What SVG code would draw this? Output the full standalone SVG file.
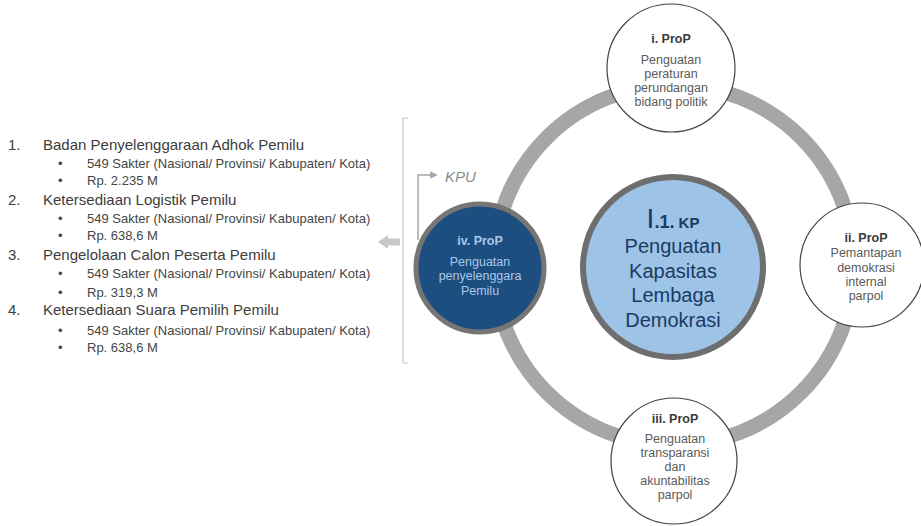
<svg xmlns="http://www.w3.org/2000/svg" width="921" height="526" viewBox="0 0 921 526">
<defs>
<style>
.hd{font-family:"Liberation Sans",Arial,sans-serif;font-size:15px;fill:#3d3d3d}
.sb{font-family:"Liberation Sans",Arial,sans-serif;font-size:13px;fill:#454545}
.ct{font-family:"Liberation Sans",Arial,sans-serif;font-size:12.5px;fill:#5a5a5a;text-anchor:middle}
.ctb{font-weight:bold;fill:#3a3a3a}
.wt{font-family:"Liberation Sans",Arial,sans-serif;font-size:12.5px;fill:#a9c8e8;text-anchor:middle}
.big{font-family:"Liberation Sans",Arial,sans-serif;font-size:20px;fill:#1c3a63;text-anchor:middle}
.sc{fill:#ffffff;stroke:#444444;stroke-width:1.2}
</style>
<marker id="dot" viewBox="0 0 6 6" refX="3" refY="3" markerWidth="5" markerHeight="5" orient="auto">
<path d="M0,0 L6,3 L0,6 z" fill="#a6a6a6"/>
</marker>
</defs>
<rect width="921" height="526" fill="#ffffff"/>

<g id="connectors">
<circle cx="674" cy="265" r="180" fill="none" stroke="#a6a6a6" stroke-width="15"/>
<path d="M403,118 H408 M403,118 V363 M403,363 H408" fill="none" stroke="#d3d3d3" stroke-width="1.5"/>
<path d="M378,242 L388,235 L388,238.5 L400,238.5 L400,245.5 L388,245.5 L388,249 Z" fill="#c8c8c8"/>
<path d="M418,240 V175 H434" fill="none" stroke="#a6a6a6" stroke-width="1.5" marker-end="url(#dot)"/>
<text x="445" y="182" font-family="Liberation Sans, Arial, sans-serif" font-size="15" font-style="italic" fill="#8c8c8c">KPU</text>
</g>

<g id="list">
<text class="hd" x="8" y="150">1.</text><text class="hd" x="43" y="150">Badan Penyelenggaraan Adhok Pemilu</text>
<text class="sb" x="58" y="168">•</text><text class="sb" x="87" y="168">549 Sakter (Nasional/ Provinsi/ Kabupaten/ Kota)</text>
<text class="sb" x="58" y="185">•</text><text class="sb" x="87" y="185">Rp. 2.235 M</text>
<text class="hd" x="8" y="205">2.</text><text class="hd" x="43" y="205">Ketersediaan Logistik Pemilu</text>
<text class="sb" x="58" y="223">•</text><text class="sb" x="87" y="223">549 Sakter (Nasional/ Provinsi/ Kabupaten/ Kota)</text>
<text class="sb" x="58" y="240">•</text><text class="sb" x="87" y="240">Rp. 638,6 M</text>
<text class="hd" x="8" y="260">3.</text><text class="hd" x="43" y="260">Pengelolaan Calon Peserta Pemilu</text>
<text class="sb" x="58" y="278">•</text><text class="sb" x="87" y="278">549 Sakter (Nasional/ Provinsi/ Kabupaten/ Kota)</text>
<text class="sb" x="58" y="297">•</text><text class="sb" x="87" y="297">Rp. 319,3 M</text>
<text class="hd" x="8" y="315">4.</text><text class="hd" x="43" y="315">Ketersediaan Suara Pemilih Pemilu</text>
<text class="sb" x="58" y="335">•</text><text class="sb" x="87" y="335">549 Sakter (Nasional/ Provinsi/ Kabupaten/ Kota)</text>
<text class="sb" x="58" y="352">•</text><text class="sb" x="87" y="352">Rp. 638,6 M</text>
</g>

<g id="node-center">
<circle cx="673" cy="267" r="90" fill="#9dc3e6" stroke="#6e6e6e" stroke-width="6"/>
<text class="big" x="673" y="228"><tspan font-size="28">I</tspan><tspan font-size="18" font-weight="bold">.1.</tspan><tspan font-size="15" font-weight="bold"> KP</tspan></text>
<text class="big" x="673" y="253">Penguatan</text>
<text class="big" x="673" y="278">Kapasitas</text>
<text class="big" x="673" y="302">Lembaga</text>
<text class="big" x="673" y="327">Demokrasi</text>
</g>

<g id="node-i">
<circle class="sc" cx="671" cy="68" r="64"/>
<text class="ct ctb" x="671" y="43">i. ProP</text>
<text class="ct" x="671" y="64">Penguatan</text>
<text class="ct" x="671" y="78">peraturan</text>
<text class="ct" x="671" y="92">perundangan</text>
<text class="ct" x="671" y="106">bidang politik</text>
</g>

<g id="node-ii">
<circle class="sc" cx="862" cy="265" r="62"/>
<text class="ct ctb" x="866" y="242">ii. ProP</text>
<text class="ct" x="866" y="257">Pemantapan</text>
<text class="ct" x="866" y="272">demokrasi</text>
<text class="ct" x="866" y="286">internal</text>
<text class="ct" x="866" y="300">parpol</text>
</g>

<g id="node-iii">
<circle class="sc" cx="674" cy="461" r="63"/>
<text class="ct ctb" x="675" y="423">iii. ProP</text>
<text class="ct" x="675" y="443">Penguatan</text>
<text class="ct" x="675" y="457">transparansi</text>
<text class="ct" x="675" y="471">dan</text>
<text class="ct" x="675" y="485">akuntabilitas</text>
<text class="ct" x="675" y="499">parpol</text>
</g>

<g id="node-iv">
<circle cx="480" cy="268" r="64" fill="#1d4e80" stroke="#757575" stroke-width="5"/>
<text class="wt" x="480" y="245" font-weight="bold" fill="#ffffff">iv. ProP</text>
<text class="wt" x="480" y="266">Penguatan</text>
<text class="wt" x="480" y="280">penyelenggara</text>
<text class="wt" x="480" y="295">Pemilu</text>
</g>
</svg>
